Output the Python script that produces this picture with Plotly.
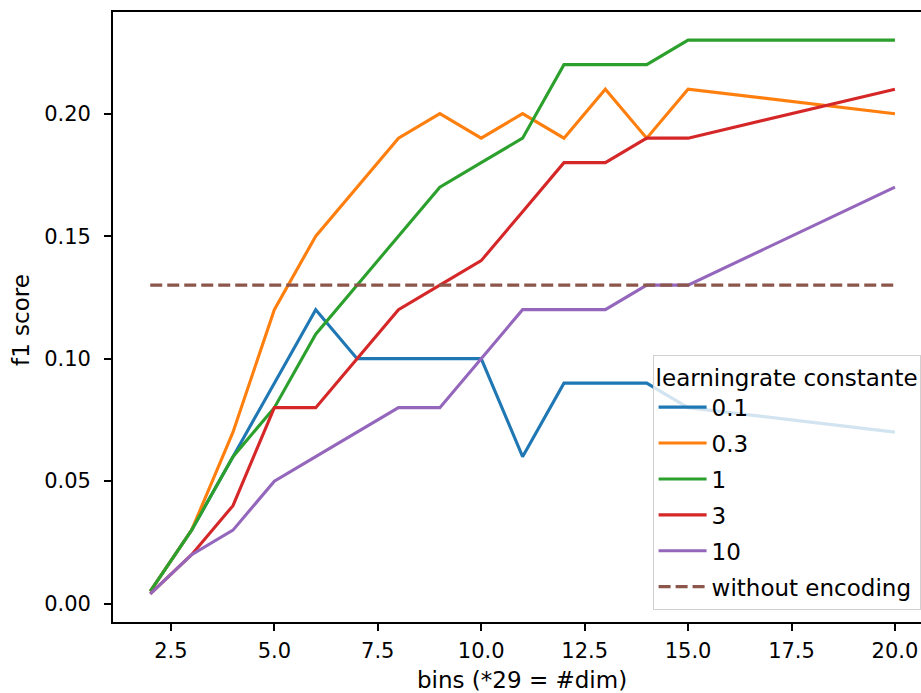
import plotly.graph_objects as go

bins = [2, 3, 4, 5, 6, 7, 8, 9, 10, 11, 12, 13, 14, 15, 20]
lr_01 = [0.005, 0.03, 0.06, 0.09, 0.12, 0.10, 0.10, 0.10, 0.10, 0.06, 0.09, 0.09, 0.09, 0.08, 0.07]
lr_03 = [0.005, 0.03, 0.07, 0.12, 0.15, 0.17, 0.19, 0.20, 0.19, 0.20, 0.19, 0.21, 0.19, 0.21, 0.20]
lr_1 = [0.005, 0.03, 0.06, 0.08, 0.11, 0.13, 0.15, 0.17, 0.18, 0.19, 0.22, 0.22, 0.22, 0.23, 0.23]
lr_3 = [0.004, 0.02, 0.04, 0.08, 0.08, 0.10, 0.12, 0.13, 0.14, 0.16, 0.18, 0.18, 0.19, 0.19, 0.21]
lr_10 = [0.004, 0.02, 0.03, 0.05, 0.06, 0.07, 0.08, 0.08, 0.10, 0.12, 0.12, 0.12, 0.13, 0.13, 0.17]
baseline_x = [2, 20]
baseline_y = [0.13, 0.13]

series_names = ["0.1", "0.3", "1", "3", "10"]
series_values = [lr_01, lr_03, lr_1, lr_3, lr_10]
colors = ["#1f77b4", "#ff7f0e", "#2ca02c", "#d62728", "#9467bd"]

x_ticks = [2.5, 5.0, 7.5, 10.0, 12.5, 15.0, 17.5, 20.0]
y_ticks = [0.00, 0.05, 0.10, 0.15, 0.20]

FONT = "DejaVu Sans"
FS_TICK = 21
FS = 23

fig = go.Figure()
for i, (name, vals, col) in enumerate(zip(series_names, series_values, colors)):
    fig.add_trace(go.Scatter(x=bins, y=vals, mode="lines", name=name,
                             line=dict(color=col, width=3.1),
                             legendgroup="g%d" % i))
fig.add_trace(go.Scatter(x=baseline_x, y=baseline_y, mode="lines",
                         name="without encoding",
                         line=dict(color="#8c564b", width=3.1, dash="12px,5px"),
                         legendgroup="g5"))

fig.update_layout(
    width=921, height=693,
    margin=dict(l=113, r=0, t=12, b=71),
    paper_bgcolor="white", plot_bgcolor="white",
    font=dict(family=FONT, size=FS, color="black"),
    showlegend=True,
    legend=dict(
        title=dict(text="learningrate constante", font=dict(family=FONT, size=FS)),
        font=dict(family=FONT, size=FS, color="black"),
        x=0.9995, xanchor="right", y=0.02, yanchor="bottom",
        bgcolor="rgba(255,255,255,0.8)", bordercolor="#d0d0d0", borderwidth=1,
        tracegroupgap=3, itemwidth=48,
    ),
    xaxis=dict(range=[1.1, 20.63], tickvals=x_ticks, tickformat=".1f",
               showgrid=False, zeroline=False,
               showline=True, linecolor="black", linewidth=1.7, mirror=True,
               ticks="outside", ticklen=7, tickwidth=1.7, tickcolor="black",
               ticklabelstandoff=2,
               tickfont=dict(family=FONT, size=FS_TICK, color="black")),
    yaxis=dict(range=[-0.0075, 0.2415], tickvals=y_ticks, tickformat=".2f",
               showgrid=False, zeroline=False,
               showline=True, linecolor="black", linewidth=1.7, mirror=False,
               ticks="outside", ticklen=7, tickwidth=1.7, tickcolor="black",
               ticklabelstandoff=9,
               tickfont=dict(family=FONT, size=FS_TICK, color="black")),
    annotations=[
        dict(text="bins (*29 = #dim)", xref="paper", yref="paper",
             x=0.5065, y=-0.095, xanchor="center", yanchor="middle",
             showarrow=False, font=dict(family=FONT, size=FS, color="black")),
        dict(text="f1 score", xref="paper", yref="paper",
             x=-0.114, y=0.495, xanchor="center", yanchor="middle", textangle=-90,
             showarrow=False, font=dict(family=FONT, size=FS, color="black")),
    ],
)

fig.write_html("out.html", config={"displayModeBar": False},
               post_script="document.body.style.margin='0';document.body.style.overflow='hidden';")
